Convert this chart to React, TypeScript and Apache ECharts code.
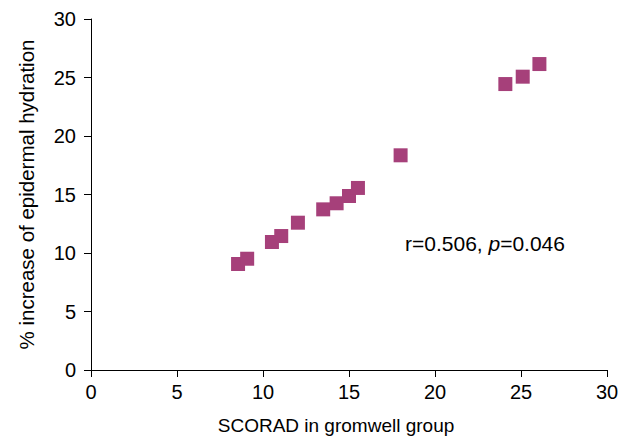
import React, { useEffect, useRef } from "react";
import * as echarts from "echarts";

const scoradValues = [8.55, 9.08, 10.52, 11.06, 12.03, 13.5, 14.28, 15.0, 15.52, 18.0, 24.09, 25.1, 26.07];
const hydrationValues = [9.06, 9.51, 10.94, 11.45, 12.59, 13.73, 14.25, 14.87, 15.56, 18.35, 24.44, 25.07, 26.15];
const xTicks = [0, 5, 10, 15, 20, 25, 30];
const yTicks = [0, 5, 10, 15, 20, 25, 30];

const FONT = "'Liberation Sans', Arial, sans-serif";

export default function App() {
  const ref = useRef<HTMLDivElement>(null);
  useEffect(() => {
    if (!ref.current) return;
    const chart = echarts.init(ref.current, undefined, { renderer: "svg" });
    const axisCommon = {
      type: "value" as const,
      interval: 5,
      splitLine: { show: false },
      axisLine: { show: true, onZero: false, lineStyle: { color: "#000", width: 1 } },
      axisTick: { show: true, inside: false, length: 7, lineStyle: { color: "#000" } },
      axisLabel: { color: "#000", fontSize: 20, fontFamily: FONT },
    };
    chart.setOption({
      animation: false,
      backgroundColor: "#fff",
      grid: { left: 91, right: 26, top: 19, bottom: 72, containLabel: false },
      xAxis: {
        ...axisCommon,
        min: xTicks[0],
        max: xTicks[xTicks.length - 1],
        name: "SCORAD in gromwell group",
        nameLocation: "middle",
        nameGap: 46,
        nameTextStyle: { color: "#000", fontSize: 19, fontFamily: FONT, padding: [0, 26, 0, 0] },
        axisLabel: { ...axisCommon.axisLabel, margin: 12 },
      },
      yAxis: {
        ...axisCommon,
        min: yTicks[0],
        max: yTicks[yTicks.length - 1],
        name: "% increase of epidermal hydration",
        nameLocation: "middle",
        nameGap: 54,
        nameRotate: 90,
        nameTextStyle: { color: "#000", fontSize: 20.5, fontFamily: FONT },
        axisLabel: { ...axisCommon.axisLabel, margin: 15 },
      },
      series: [
        {
          type: "scatter",
          symbol: "rect",
          symbolSize: 14,
          itemStyle: { color: "#a6407a", opacity: 1 },
          data: scoradValues.map((x, i) => [x, hydrationValues[i]]),
        },
      ],
      graphic: [
        {
          type: "text",
          left: 405,
          top: 233,
          style: {
            text: "{n|r=0.506, }{i|p}{n|=0.046}",
            rich: {
              n: { fontSize: 21, fontFamily: FONT, fill: "#000" },
              i: { fontSize: 21, fontFamily: FONT, fontStyle: "italic", fill: "#000" },
            },
          },
        },
      ],
    });
    return () => chart.dispose();
  }, []);
  return <div ref={ref} style={{ width: 633, height: 442, position: "fixed", left: 0, top: 0 }} />;
}
